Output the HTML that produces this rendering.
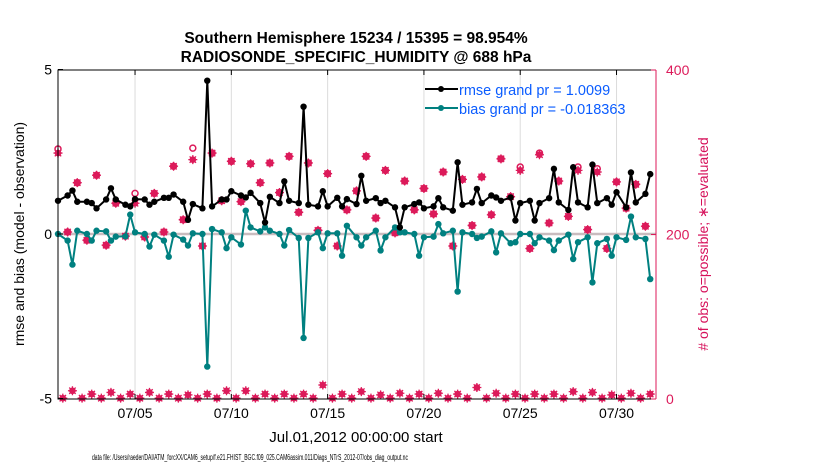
<!DOCTYPE html>
<html><head><meta charset="utf-8"><style>
body{margin:0;background:#fff}
svg{display:block;font-family:"Liberation Sans",sans-serif}
</style></head><body>
<svg id="chart" width="830" height="470" viewBox="0 0 830 470">
<text x="356" y="43" text-anchor="middle" font-size="15.5" font-weight="bold">Southern Hemisphere 15234 / 15395 = 98.954%</text>
<text x="356" y="62" text-anchor="middle" font-size="15.5" font-weight="bold">RADIOSONDE_SPECIFIC_HUMIDITY @ 688 hPa</text>
<g id="grid"></g>
<g id="marks"></g>
<g id="axes"></g>
<text transform="translate(24,234) rotate(-90)" text-anchor="middle" font-size="14">rmse and bias (model - observation)</text>
<text transform="translate(708,244) rotate(-90)" text-anchor="middle" font-size="14" fill="#d6105a"># of obs: o=possible; ∗=evaluated</text>
<text x="356" y="442" text-anchor="middle" font-size="15">Jul.01,2012 00:00:00 start</text>
<text x="250" y="460" text-anchor="middle" font-size="7.8" textLength="316" lengthAdjust="spacingAndGlyphs">data file: /Users/raeder/DAI/ATM_forcXX/CAM6_setup/f.e21.FHIST_BGC.f09_025.CAM6assim.011/Diags_NTrS_2012-07/obs_diag_output.nc</text>
<g>
<line x1="425" y1="89" x2="458" y2="89" stroke="#000" stroke-width="2"/><circle cx="441" cy="89" r="3" fill="#000"/>
<text x="459" y="95" font-size="14.5" fill="#0a5cff">rmse grand pr = 1.0099</text>
<line x1="425" y1="108" x2="458" y2="108" stroke="#008080" stroke-width="2"/><circle cx="441" cy="108" r="3" fill="#008080"/>
<text x="459" y="114" font-size="14.5" fill="#0a5cff">bias grand pr = -0.018363</text>
</g>
</svg>
<script>
const rmse=[1.01,1.17,1.32,0.98,0.98,0.94,0.78,1.05,1.39,1.05,0.89,0.84,1.06,1.05,0.89,0.98,1.10,1.10,1.20,0.98,0.43,0.91,0.78,4.66,0.84,1.05,1.05,1.30,1.17,1.11,1.25,0.94,0.35,1.13,0.94,1.60,1.01,0.94,3.87,0.89,0.84,1.30,0.84,1.10,0.84,1.06,0.91,
1.77,1.01,1.09,0.94,1.01,0.81,0.20,0.81,0.91,0.96,0.78,0.84,1.09,0.81,0.71,2.18,0.89,0.96,1.37,0.94,1.17,1.11,1.01,1.11,0.41,0.94,1.01,0.41,0.94,1.09,1.98,0.96,0.73,2.03,0.96,0.81,2.11,0.94,1.09,0.89,1.27,0.81,1.87,0.96,1.22,1.82];
const bias=[0,-0.2,-0.93,0.1,0,-0.2,0.1,0.08,-0.2,-0.08,-0.07,0.59,0.05,0,-0.38,-0.02,-0.2,-0.69,-0.02,-0.17,-0.35,0.02,0,-4.03,0.15,0.05,-0.43,-0.1,-0.32,0.71,0.2,0.08,0.2,0.1,0,-0.35,0.12,-0.12,-3.16,-0.12,0.05,-0.43,0.02,0.02,-0.66,0.25,-0.1,
-0.35,-0.1,0.1,-0.5,-0.1,0.2,0.05,0.05,0,-0.66,-0.1,-0.08,0.3,0.02,0.1,-1.75,0.05,0,-0.12,-0.08,0.08,-0.56,0.02,-0.28,-0.25,0,0,-0.28,-0.1,-0.2,-0.49,-0.2,-0.02,-0.76,-0.25,-0.1,-1.47,-0.28,-0.15,-0.66,-0.1,-0.18,0.53,-0.1,-0.15,-1.37];
const evalMain=[299,203,263,193,272,187,238,198,238,197,250,203,283,218,291,186,299,241,289,240,286,263,287,251,295,227,287,205,274,186,230,253,
295,220,278,202,265,230,256,225,276,186,267,211,270,224,292,246,278,183,297,214,265,222,278,206,276,183,264,232,261,210];
const possMain=[304,203,263,193,272,187,238,198,250,197,250,203,283,218,305,186,299,241,289,240,286,263,287,251,295,227,287,205,274,186,230,253,
295,220,278,202,265,230,256,225,276,186,267,211,270,224,292,246,282,183,299,214,265,222,282,206,280,183,264,232,261,210];
const countLow=[1,10,1,6,1,8,1,6,1,8,1,6,1,5,1,6,1,10,1,10,1,6,1,6,1,6,1,17,1,6,1,
9,1,5,1,7,1,6,1,7,1,6,1,14,1,7,1,6,1,6,1,6,1,9,1,8,1,5,1,7,1,6];
const xTicks=["07/05","07/10","07/15","07/20","07/25","07/30"];
const xTickDays=[4,9,14,19,24,29];
const yTicks=[-5,0,5];
const rTicks=[0,200,400];

const NS="http://www.w3.org/2000/svg";
const L=58,R=656,T=70,B=399;
const x=d=>L+d*(R-L)/31.05;
const y=v=>234-v*(B-T)/10;
const yr=c=>B-c*(B-T)/400;
function el(tag,attrs,parent){const e=document.createElementNS(NS,tag);for(const k in attrs)e.setAttribute(k,attrs[k]);parent.appendChild(e);return e;}
const grid=document.getElementById('grid'),marks=document.getElementById('marks'),axes=document.getElementById('axes');
const mainDay=i=>Math.floor(i/3)+[0,0.5,0.75][i%3];

xTickDays.forEach((d,i)=>{
  const g=el('line',{x1:x(d),x2:x(d),y1:T,y2:B,stroke:'#dcdcdc','stroke-width':1},grid);
  
  
  const t=el('text',{x:x(d),y:418,'text-anchor':'middle','font-size':14},axes);
  t.textContent=xTicks[i];
  
  
  el('line',{x1:x(d),x2:x(d),y1:B,y2:B-5,stroke:'#000'},axes);
  el('line',{x1:x(d),x2:x(d),y1:T,y2:T+5,stroke:'#000'},axes);
});
const zl=el('line',{x1:L,x2:R,y1:y(0),y2:y(0),stroke:'#c9bcbf','stroke-width':2.5},grid);



function star(cx,cy,parent){
  const g=el('g',{},parent);
  el('circle',{cx:cx,cy:cy,r:3.3,fill:'#dc1a5a'},g);
  el('path',{d:`M${cx-4.5},${cy}H${cx+4.5}M${cx},${cy-4.5}V${cy+4.5}M${cx-3.2},${cy-3.2}L${cx+3.2},${cy+3.2}M${cx-3.2},${cy+3.2}L${cx+3.2},${cy-3.2}`,stroke:'#dc1a5a','stroke-width':1.3},g);
  return g;
}
evalMain.forEach((c,i)=>{
  const d=i*0.5;
  const p=el('circle',{cx:x(d),cy:yr(possMain[i]),r:3,fill:'none',stroke:'#dc1a5a','stroke-width':1.5},marks);
  
  
  const s=star(x(d),yr(c),marks);
  
  
});
countLow.forEach((c,i)=>{
  const d=0.25+i*0.5;
  const s=star(x(d),yr(c),marks);
  
  
});

function series(vals,color,name){
  const pts=vals.map((v,i)=>x(mainDay(i)).toFixed(1)+','+y(v).toFixed(1)).join(' ');
  const pl=el('polyline',{points:pts,fill:'none',stroke:color,'stroke-width':2,'stroke-linejoin':'round'},marks);
  
  
  vals.forEach((v,i)=>{
    const c=el('circle',{cx:x(mainDay(i)),cy:y(v),r:3.2,fill:color},marks);
    
    
  });
}
series(bias,'#008080','bias');
series(rmse,'#000000','rmse');

el('path',{d:`M${R},${T}H${L}V${B}H${R}`,fill:'none',stroke:'#000','stroke-width':1},axes);
const ra=el('line',{x1:R,x2:R,y1:T,y2:B,stroke:'#dc1a5a','stroke-width':1},axes);


yTicks.forEach(v=>{
  const t=el('text',{x:52,y:y(v)+5,'text-anchor':'end','font-size':14},axes);
  t.textContent=v;
  
  
  el('line',{x1:L,x2:L+5,y1:y(v),y2:y(v),stroke:'#000'},axes);
});
rTicks.forEach(v=>{
  const t=el('text',{x:666,y:yr(v)+5,'font-size':14,fill:'#dc1a5a'},axes);
  t.textContent=v;
  
  
  el('line',{x1:R-5,x2:R,y1:yr(v),y2:yr(v),stroke:'#dc1a5a'},axes);
});
</script>
</body></html>
